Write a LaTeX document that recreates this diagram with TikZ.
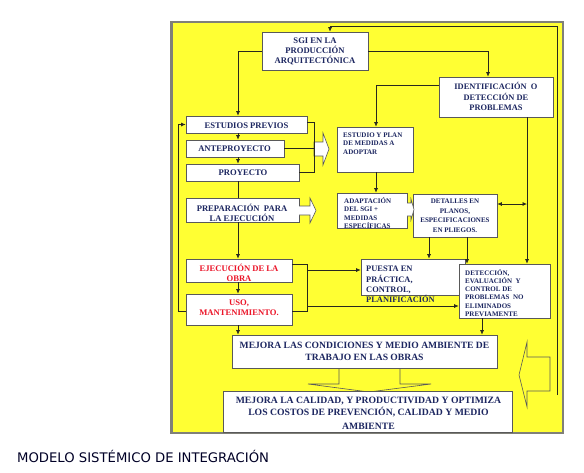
\documentclass[tikz,border=0pt]{standalone}
\usepackage{fontspec}
\setmainfont{Liberation Serif}
\newfontfamily\capfont{DejaVu Sans}
\usetikzlibrary{arrows.meta}
\definecolor{ylw}{RGB}{255,255,51}
\definecolor{navytxt}{RGB}{28,38,96}
\definecolor{redtxt}{RGB}{235,20,40}
\definecolor{framegray}{RGB}{128,128,120}
\definecolor{linec}{RGB}{40,40,30}
\begin{document}
\begin{tikzpicture}[x=1pt,y=-1pt,
  con/.style={draw=linec, line width=0.7pt},
  arr/.style={con, -{Latex[length=4.5pt,width=4pt]}},
  dblarr/.style={con, {Latex[length=4.5pt,width=4pt]}-{Latex[length=4.5pt,width=4pt]}},
  box/.style={draw=black!65, line width=0.6pt, fill=white, inner sep=0pt},
  txt/.style={inner sep=0pt, text=navytxt, font=\bfseries\fontsize{8.6}{10}\selectfont, align=center},
  redt/.style={txt, text=redtxt},
  small/.style={inner sep=0pt, text=navytxt, font=\bfseries\fontsize{7}{8.5}\selectfont, align=left},
  blockarrow/.style={draw=black!65, line width=0.6pt, line join=miter}]
\useasboundingbox (0,0) rectangle (584,472);
\draw[framegray, line width=2.5pt, fill=ylw] (171.5,22) rectangle (563,433);

% helper coordinates
\coordinate (xs) at (238,0);
\coordinate (x178) at (178,0);
\coordinate (x314) at (314,0);
\coordinate (x376) at (376,0);
\coordinate (x429) at (429,0);
\coordinate (x467) at (467,0);
\coordinate (x482) at (482,0);
\coordinate (x488) at (488,0);
\coordinate (x527) at (527,0);
\coordinate (fbR) at (557,395);
\coordinate (fbT) at (330,26);
\coordinate (j1) at (527,204);
\coordinate (b1) at (307,270);
\coordinate (b2) at (307,306);
\coordinate (b3) at (307,311);

% down block arrow between the two bottom boxes
\draw[blockarrow] (339,368) -- (339,384) -- (308,384) -- (369,392) -- (431,384) -- (400,384) -- (400,368);
% left-pointing block arrow at right
\draw[blockarrow] (550,357) -- (527,357) -- (527,342) -- (519,375) -- (527,407) -- (527,391) -- (550,391) -- cycle;

% boxes
\node[box, minimum width=106pt, minimum height=38pt] (sgi) at (315,51) {};
\node[box, minimum width=114pt, minimum height=40pt] (ident) at (496,97) {};
\node[box, minimum width=121pt, minimum height=17pt] (estp) at (246.5,124.5) {};
\node[box, minimum width=98pt, minimum height=17pt] (ante) at (235,148.5) {};
\node[box, minimum width=113pt, minimum height=17pt] (proy) at (242.5,172.5) {};
\node[box, minimum width=113pt, minimum height=24pt] (prep) at (242.5,210) {};
\node[box, minimum width=106pt, minimum height=23pt] (ejec) at (239,270.5) {};
\node[box, minimum width=106pt, minimum height=31pt] (uso) at (239,309.5) {};
\node[box, minimum width=76pt, minimum height=45pt] (plan) at (375,149.5) {};
\node[box, minimum width=70pt, minimum height=35pt] (adap) at (372,210.5) {};
\node[box, minimum width=84pt, minimum height=43pt] (det) at (455,215.5) {};
\node[box, minimum width=104pt, minimum height=36pt] (puesta) at (413,277) {};
\node[box, minimum width=91pt, minimum height=54pt] (detec) at (504.5,291) {};
\node[box, minimum width=265pt, minimum height=33pt] (mej1) at (364.5,351.5) {};
\node[box, minimum width=289pt, minimum height=41pt] (mej2) at (367.5,411.5) {};

% white block arrows
\draw[blockarrow, fill=white] (314,142) -- (323,142) -- (323,133) -- (329,149) -- (323,165) -- (323,156) -- (314,156) -- cycle;
\draw[blockarrow, fill=white] (299,206) -- (310,206) -- (310,198) -- (316,210.5) -- (310,223) -- (310,215) -- (299,215);
\draw[blockarrow, fill=white] (407,203) -- (411,203) -- (411,199) -- (414,209.5) -- (411,220) -- (411,216) -- (407,216);

% texts
\node[txt] (tsgi) at (315,51.7) {SGI EN LA\\PRODUCCIÓN\\ARQUITECTÓNICA};
\node[txt, font=\bfseries\fontsize{8.4}{10.3}\selectfont] (tident) at (496,96.7) {IDENTIFICACIÓN~~O\\DETECCIÓN DE\\PROBLEMAS};
\node[txt, anchor=base] (testp) at (246.5,128) {ESTUDIOS PREVIOS};
\node[txt, anchor=base] (tante) at (234.5,151.5) {ANTEPROYECTO};
\node[txt, anchor=base] (tproy) at (243,175) {PROYECTO};
\node[txt, font=\bfseries\fontsize{8.6}{10.5}\selectfont] (tprep) at (242,213) {PREPARACIÓN~~PARA\\LA EJECUCIÓN};
\node[redt] (tejec) at (239,273.3) {EJECUCIÓN DE LA\\OBRA};
\node[redt] (tuso) at (239,307.7) {USO,\\MANTENIMIENTO.};
\node[small, anchor=west] (tplan) at (343,143.5) {ESTUDIO Y PLAN\\DE MEDIDAS A\\ADOPTAR};
\begin{scope}
\clip (adap.north west) rectangle (adap.south east);
\node[small, anchor=west] (tadap) at (344,212.8) {ADAPTACIÓN\\DEL SGI +\\MEDIDAS\\ESPECÍFICAS};
\end{scope}
\node[small, align=center, font=\bfseries\fontsize{7}{9.4}\selectfont] (tdet) at (455,215.8) {DETALLES EN\\PLANOS,\\ESPECIFICACIONES\\EN PLIEGOS.};
\node[txt, align=left, anchor=west, font=\bfseries\fontsize{8.4}{10.3}\selectfont] (tpuesta) at (366,284.5) {PUESTA EN\\PRÁCTICA,\\CONTROL,\\PLANIFICACIÓN};
\node[small, anchor=west, font=\bfseries\fontsize{7}{8.3}\selectfont] (tdetec) at (465,292.8) {DETECCIÓN,\\EVALUACIÓN~~Y\\CONTROL DE\\PROBLEMAS~~NO\\ELIMINADOS\\PREVIAMENTE};
\node[txt, font=\bfseries\fontsize{9.6}{11.7}\selectfont] (tmej1) at (364.5,351.5) {MEJORA LAS CONDICIONES Y MEDIO AMBIENTE DE\\TRABAJO EN LAS OBRAS};
\node[txt, font=\bfseries\fontsize{9.7}{11.5}\selectfont] (tmej2) at (368.5,413.5) {MEJORA LA CALIDAD, Y PRODUCTIVIDAD Y OPTIMIZA\\LOS COSTOS DE PREVENCIÓN, CALIDAD Y MEDIO\\[2.5pt]AMBIENTE};

% connectors
\draw[arr] (sgi.west) -| (xs |- estp.north);
\draw[arr] (sgi.east) -| (x488 |- ident.north);
\draw[arr] (fbR) |- (fbT) -- (fbT |- sgi.north);
\draw[arr] ([yshift=12pt]ident.west) -| (x376 |- plan.north);
\draw[arr] (x527 |- ident.south) -- (x527 |- detec.north);
\draw[dblarr] (j1 -| det.east) -- (j1);
\draw[arr] (xs |- estp.south) -- (xs |- ante.north);
\draw[arr] (xs |- ante.south) -- (xs |- proy.north);
\draw[con] (xs |- proy.south) -- (xs |- prep.north);
\draw[arr] (xs |- prep.south) -- (xs |- ejec.north);
\draw[arr] (xs |- ejec.south) -- (xs |- uso.north);
\draw[arr] (xs |- uso.south) -- (xs |- mej1.north);
\draw[con] ([yshift=2.5pt]estp.east) -| (x314 |- proy.east) -- (proy.east);
\draw[con] (ante.east) -- (x314 |- ante.east);
\draw[arr] ([yshift=-1.5pt]uso.west) -| (x178 |- estp.west) -- (estp.west);
\draw[con] ([yshift=6.5pt]ejec.east) -| (b3) -- (b3 -| uso.east);
\draw[arr] (b1) -- (b1 -| puesta.west);
\draw[arr] (b2) -- (b2 -| detec.west);
\draw[arr] (x376 |- plan.south) -- (x376 |- adap.north);
\draw[arr] (x429 |- det.south) -- (x429 |- puesta.north);
\draw[arr] (x467 |- det.south) -- (x467 |- detec.north);
\draw[arr] (x482 |- detec.south) -- (x482 |- mej1.north);

% caption
\node[anchor=base west, inner sep=0pt, font=\capfont\fontsize{13.2}{15}\selectfont, text=black!85!blue] (cap) at (17,462.3) {MODELO SISTÉMICO DE INTEGRACIÓN};
\end{tikzpicture}
\end{document}
